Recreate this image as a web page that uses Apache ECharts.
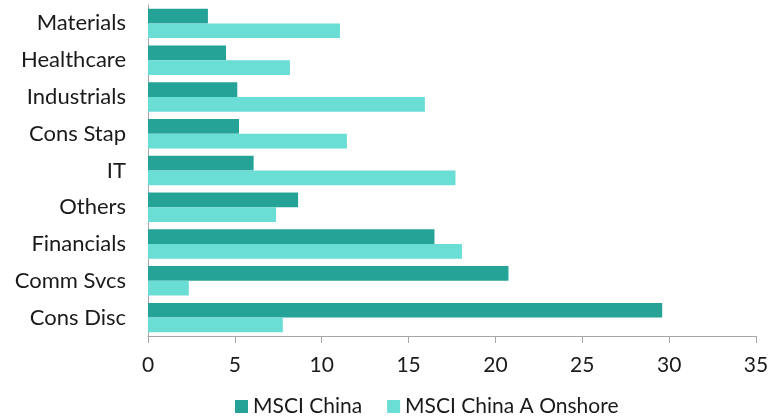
<!DOCTYPE html>
<html>
<head>
<meta charset="utf-8">
<script src="https://cdn.jsdelivr.net/npm/echarts@6/dist/echarts.min.js"></script>
<style>html,body{margin:0;padding:0;background:#fff;}#c{width:778px;height:419px;}</style>
</head>
<body>
<div id="c"></div>
<script>
const categories = ['Materials','Healthcare','Industrials','Cons Stap','IT','Others','Financials','Comm Svcs','Cons Disc'];
const seriesNames = ['MSCI China','MSCI China A Onshore'];
const msciChina = [3.45, 4.49, 5.14, 5.24, 6.08, 8.64, 16.49, 20.75, 29.6];
const msciChinaA = [11.05, 8.17, 15.94, 11.45, 17.7, 7.37, 18.07, 2.35, 7.76];
const xTicks = {min: 0, max: 35, interval: 5};

const FONT = 'Lato';
const chart = echarts.init(document.getElementById('c'));
chart.setOption({
  animation: false,
  textStyle: {fontFamily: FONT},
  grid: {left: 148, right: 22, top: 5, bottom: 83, containLabel: false},
  legend: {
    left: 235, top: 396, padding: 0,
    itemWidth: 13, itemHeight: 13, itemGap: 25,
    icon: 'rect',
    textStyle: {fontFamily: FONT, fontSize: 21, color: '#1a1a1a'},
    data: seriesNames
  },
  xAxis: {
    type: 'value', min: xTicks.min, max: xTicks.max, interval: xTicks.interval,
    axisLine: {show: true, lineStyle: {color: '#a6a6a6', width: 1}},
    axisTick: {show: true, length: 7, lineStyle: {color: '#a6a6a6'}},
    splitLine: {show: false},
    axisLabel: {fontFamily: FONT, fontSize: 21, color: '#1a1a1a', margin: 19}
  },
  yAxis: {
    type: 'category', data: categories, inverse: true,
    axisLine: {show: true, lineStyle: {color: '#a6a6a6', width: 1}},
    axisTick: {show: false},
    axisLabel: {fontFamily: FONT, fontSize: 22, color: '#1a1a1a', margin: 22}
  },
  series: [
    {name: seriesNames[0], type: 'bar', data: msciChina, barGap: '0%', barCategoryGap: '20%',
     itemStyle: {color: '#26A397'}},
    {name: seriesNames[1], type: 'bar', data: msciChinaA, barGap: '0%', barCategoryGap: '20%',
     itemStyle: {color: '#6ADDD5'}}
  ]
});
</script>
</body>
</html>
